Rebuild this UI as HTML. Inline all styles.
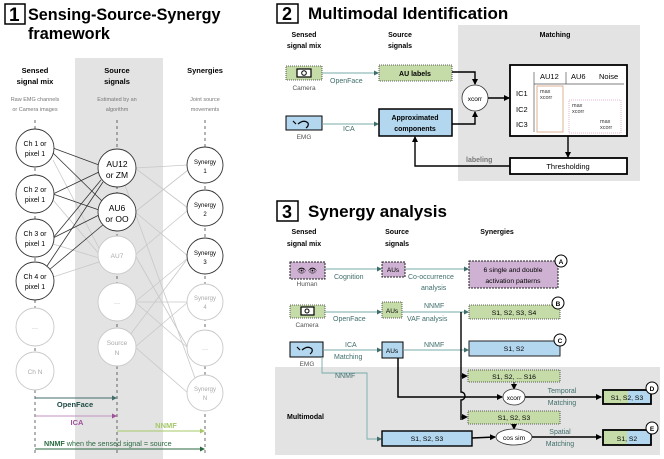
<!DOCTYPE html>
<html><head><meta charset="utf-8"><style>
html,body{margin:0;padding:0;background:#fff}
svg{display:block;font-family:"Liberation Sans",Arial,sans-serif}
.b{font-weight:bold}
</style></head><body>
<svg width="664" height="459" viewBox="0 0 664 459" xmlns="http://www.w3.org/2000/svg">
<defs>
<marker id="ah" markerWidth="6" markerHeight="6" refX="5" refY="3" orient="auto" markerUnits="userSpaceOnUse"><path d="M0,0 L6,3 L0,6z" fill="#000"/></marker>
<marker id="at" markerWidth="5" markerHeight="5" refX="4" refY="2.5" orient="auto" markerUnits="userSpaceOnUse"><path d="M0,0 L5,2.5 L0,5z" fill="#3f6e6a"/></marker>
<marker id="ap" markerWidth="5" markerHeight="5" refX="4" refY="2.5" orient="auto" markerUnits="userSpaceOnUse"><path d="M0,0 L5,2.5 L0,5z" fill="#a0509a"/></marker>
<marker id="ag" markerWidth="5" markerHeight="5" refX="4" refY="2.5" orient="auto" markerUnits="userSpaceOnUse"><path d="M0,0 L5,2.5 L0,5z" fill="#a6c86a"/></marker>
<marker id="adg" markerWidth="5" markerHeight="5" refX="4" refY="2.5" orient="auto" markerUnits="userSpaceOnUse"><path d="M0,0 L5,2.5 L0,5z" fill="#2a6a40"/></marker>
</defs>

<!-- PANEL 1 -->
<rect x="5" y="4" width="20" height="20" fill="none" stroke="#000" stroke-width="1.5"/>
<text x="9" y="21" font-size="19" class="b">1</text>
<text x="28" y="20" font-size="16.2" class="b">Sensing-Source-Synergy</text>
<text x="28" y="39" font-size="16.2" class="b">framework</text>
<rect x="75" y="58" width="88" height="401" fill="#e3e3e3"/>
<g font-size="7.5" class="b" text-anchor="middle">
<text x="35" y="73">Sensed</text><text x="35" y="84">signal mix</text>
<text x="117" y="73">Source</text><text x="117" y="84">signals</text>
<text x="205" y="73">Synergies</text>
</g>
<g font-size="5.5" fill="#777" text-anchor="middle">
<text x="35" y="101">Raw EMG channels</text><text x="35" y="111">or Camera images</text>
<text x="117" y="101">Estimated by an</text><text x="117" y="111">algorithm</text>
<text x="205" y="101">Joint source</text><text x="205" y="111">movements</text>
</g>
<g stroke="#444" stroke-width="0.8" stroke-dasharray="3,3">
<line x1="35" y1="120" x2="35" y2="455"/><line x1="117" y1="120" x2="117" y2="455"/><line x1="205" y1="120" x2="205" y2="455"/>
</g>
<g stroke="#c8c8c8" stroke-width="0.8">
<line x1="135" y1="168" x2="188" y2="165"/><line x1="135" y1="168" x2="188" y2="208"/>
<line x1="135" y1="212" x2="188" y2="170"/><line x1="135" y1="212" x2="188" y2="256"/>
<line x1="135" y1="255" x2="188" y2="210"/><line x1="135" y1="255" x2="188" y2="348"/>
<line x1="135" y1="302" x2="188" y2="302"/><line x1="135" y1="302" x2="188" y2="258"/><line x1="135" y1="302" x2="188" y2="348"/>
<line x1="135" y1="347" x2="188" y2="302"/><line x1="135" y1="347" x2="188" y2="393"/><line x1="130" y1="335" x2="188" y2="258"/>
<line x1="125" y1="185" x2="195" y2="378"/>
<line x1="53" y1="160" x2="100" y2="250"/><line x1="53" y1="200" x2="100" y2="255"/><line x1="53" y1="244" x2="99" y2="258"/><line x1="53" y1="277" x2="99" y2="262"/>
</g>
<g stroke="#333" stroke-width="0.8">
<line x1="53" y1="148" x2="99" y2="165"/><line x1="53" y1="153" x2="102" y2="201"/>
<line x1="53" y1="194" x2="99" y2="172"/><line x1="53" y1="194" x2="99" y2="210"/>
<line x1="53" y1="238" x2="101" y2="180"/><line x1="53" y1="238" x2="99" y2="215"/>
<line x1="47" y1="266" x2="103" y2="182"/><line x1="49" y1="270" x2="104" y2="224"/>
</g>
<g fill="#fff" stroke="#333" stroke-width="0.9">
<circle cx="35" cy="148" r="19"/><circle cx="35" cy="194" r="19"/><circle cx="35" cy="238" r="19"/><circle cx="35" cy="281" r="19"/>
<circle cx="117" cy="168" r="19"/><circle cx="117" cy="212" r="19"/>
<circle cx="205" cy="165" r="18"/><circle cx="205" cy="208" r="18"/><circle cx="205" cy="256" r="18"/>
</g>
<g fill="#fff" stroke="#c8c8c8" stroke-width="0.9">
<circle cx="35" cy="327" r="19"/><circle cx="35" cy="371" r="19"/>
<circle cx="117" cy="255" r="19"/><circle cx="117" cy="302" r="19"/><circle cx="117" cy="347" r="19"/>
<circle cx="205" cy="302" r="18"/><circle cx="205" cy="348" r="18"/><circle cx="205" cy="393" r="18"/>
</g>
<g font-size="7" text-anchor="middle">
<text x="35" y="146">Ch 1 or</text><text x="35" y="156">pixel 1</text>
<text x="35" y="192">Ch 2 or</text><text x="35" y="202">pixel 1</text>
<text x="35" y="236">Ch 3 or</text><text x="35" y="246">pixel 1</text>
<text x="35" y="279">Ch 4 or</text><text x="35" y="289">pixel 1</text>
<text x="117" y="167" font-size="8.5">AU12</text><text x="117" y="178" font-size="8.5">or ZM</text>
<text x="117" y="211" font-size="8.5">AU6</text><text x="117" y="222" font-size="8.5">or OO</text>
<text x="205" y="164" font-size="6">Synergy</text><text x="205" y="173" font-size="6">1</text>
<text x="205" y="207" font-size="6">Synergy</text><text x="205" y="216" font-size="6">2</text>
<text x="205" y="255" font-size="6">Synergy</text><text x="205" y="264" font-size="6">3</text>
</g>
<g font-size="6.5" text-anchor="middle" fill="#aaa">
<text x="35" y="329">…</text><text x="35" y="374">Ch N</text>
<text x="117" y="258">AU7</text><text x="117" y="304">…</text>
<text x="117" y="345">Source</text><text x="117" y="355">N</text>
<text x="205" y="300" font-size="6">Synergy</text><text x="205" y="309" font-size="6">4</text>
<text x="205" y="350">…</text>
<text x="205" y="391" font-size="6">Synergy</text><text x="205" y="400" font-size="6">N</text>
</g>
<line x1="35" y1="398" x2="116" y2="398" stroke="#3f6e6a" stroke-width="0.9" marker-end="url(#at)"/>
<text x="75" y="407" font-size="7.5" class="b" fill="#1e4a44" text-anchor="middle">OpenFace</text>
<line x1="35" y1="416" x2="116" y2="416" stroke="#c090c0" stroke-width="0.9" marker-end="url(#ap)"/>
<text x="77" y="425" font-size="7.5" class="b" fill="#a0509a" text-anchor="middle">ICA</text>
<line x1="117" y1="431" x2="204" y2="431" stroke="#a6c86a" stroke-width="0.9" marker-end="url(#ag)"/>
<text x="166" y="428" font-size="7.5" class="b" fill="#a6c86a" text-anchor="middle">NNMF</text>
<line x1="35" y1="449" x2="204" y2="449" stroke="#2a6a40" stroke-width="0.9" marker-end="url(#adg)"/>
<text x="44" y="446" font-size="7.2" fill="#2a6a40"><tspan class="b">NNMF</tspan> when the sensed signal = source</text>

<!-- PANEL 2 -->
<rect x="277" y="4" width="21" height="19" fill="none" stroke="#000" stroke-width="1.5"/>
<text x="282" y="20" font-size="18" class="b">2</text>
<text x="308" y="19" font-size="17" class="b">Multimodal Identification</text>
<rect x="458" y="25" width="182" height="156" fill="#e3e3e3"/>
<g font-size="7" class="b" text-anchor="middle">
<text x="304" y="37">Sensed</text><text x="304" y="48">signal mix</text>
<text x="400" y="37">Source</text><text x="400" y="48">signals</text>
<text x="555" y="37">Matching</text>
</g>
<rect x="286" y="66" width="36" height="14" fill="#c5dba8" stroke="#333" stroke-width="0.8" stroke-dasharray="1,1"/>
<rect x="297" y="69" width="14" height="8" fill="#fff" stroke="#000" stroke-width="1.2"/><circle cx="304" cy="73" r="2.3" fill="none" stroke="#000"/>
<text x="304" y="90" font-size="6.5" fill="#555" text-anchor="middle">Camera</text>
<line x1="322" y1="73" x2="378" y2="73" stroke="#7aa" stroke-width="0.9" marker-end="url(#at)"/>
<text x="330" y="83" font-size="7" fill="#3f6e6a">OpenFace</text>
<rect x="379" y="65" width="73" height="16" fill="#c5dba8" stroke="#333" stroke-width="0.8" stroke-dasharray="1,1"/>
<text x="415" y="76" font-size="7" class="b" text-anchor="middle">AU labels</text>
<rect x="286" y="116" width="36" height="14" fill="#b3d7ef" stroke="#000" stroke-width="1"/>
<path d="M293,121 l3,3 M298,124 q6,-5 10,-1 q1,3 -2,5" stroke="#000" stroke-width="1.2" fill="none"/>
<text x="304" y="139" font-size="6.5" fill="#555" text-anchor="middle">EMG</text>
<line x1="322" y1="124" x2="378" y2="124" stroke="#7aa" stroke-width="0.9" marker-end="url(#at)"/>
<text x="343" y="131" font-size="7" fill="#3f6e6a">ICA</text>
<rect x="379" y="109" width="73" height="27" fill="#b3d7ef" stroke="#000" stroke-width="1.5"/>
<text x="415" y="120" font-size="7" class="b" text-anchor="middle">Approximated</text>
<text x="415" y="131" font-size="7" class="b" text-anchor="middle">components</text>
<circle cx="475" cy="98" r="13" fill="#fff" stroke="#333" stroke-width="0.8"/>
<text x="475" y="101" font-size="6.5" text-anchor="middle">xcorr</text>
<polyline points="452,72 475,72 475,84" fill="none" stroke="#000" stroke-width="1.4" marker-end="url(#ah)"/>
<polyline points="452,124 475,124 475,112" fill="none" stroke="#000" stroke-width="1.4" marker-end="url(#ah)"/>
<line x1="488" y1="98" x2="509" y2="98" stroke="#000" stroke-width="1.4" marker-end="url(#ah)"/>
<rect x="510" y="65" width="117" height="71" fill="#fff" stroke="#000" stroke-width="1.8"/>
<g font-size="7.5"><text x="540" y="79">AU12</text><text x="571" y="79">AU6</text><text x="599" y="79">Noise</text>
<text x="516" y="96">IC1</text><text x="516" y="112">IC2</text><text x="516" y="127">IC3</text></g>
<line x1="534" y1="72" x2="534" y2="132" stroke="#555" stroke-width="0.7"/>
<line x1="566" y1="72" x2="566" y2="84" stroke="#555" stroke-width="0.7"/>
<line x1="534" y1="84" x2="624" y2="84" stroke="#555" stroke-width="0.7"/>
<rect x="537" y="86" width="26" height="46" fill="none" stroke="#d8a07a" stroke-width="0.8"/>
<rect x="569" y="100" width="52" height="33" fill="none" stroke="#e0a0c0" stroke-width="0.8" stroke-dasharray="1,1"/>
<g font-size="5.5" fill="#333"><text x="540" y="93">max</text><text x="540" y="99">xcorr</text>
<text x="572" y="107">max</text><text x="572" y="113">xcorr</text>
<text x="600" y="123">max</text><text x="600" y="129">xcorr</text></g>
<line x1="568" y1="136" x2="568" y2="157" stroke="#000" stroke-width="1.4" marker-end="url(#ah)"/>
<rect x="510" y="158" width="117" height="16" fill="#fff" stroke="#000" stroke-width="1.8"/>
<text x="568" y="169" font-size="7.5" text-anchor="middle">Thresholding</text>
<polyline points="510,166 415,166 415,137" fill="none" stroke="#000" stroke-width="1.4" marker-end="url(#ah)"/>
<text x="466" y="162" font-size="7" class="b" fill="#777">labeling</text>

<!-- PANEL 3 -->
<rect x="277" y="201" width="21" height="20" fill="none" stroke="#000" stroke-width="1.5"/>
<text x="282" y="218" font-size="18" class="b">3</text>
<text x="308" y="217" font-size="17" class="b">Synergy analysis</text>
<rect x="275" y="367" width="385" height="88" fill="#e3e3e3"/>
<text x="287" y="419" font-size="7" class="b">Multimodal</text>
<g font-size="7" class="b" text-anchor="middle">
<text x="304" y="234">Sensed</text><text x="304" y="246">signal mix</text>
<text x="397" y="234">Source</text><text x="397" y="246">signals</text>
<text x="497" y="234">Synergies</text>
</g>
<rect x="290" y="262" width="35" height="17" fill="#cfb2d3" stroke="#222" stroke-width="1" stroke-dasharray="2,1"/>
<text x="307" y="273" font-size="7" text-anchor="middle">👁 👁</text>
<text x="307" y="286" font-size="6.5" fill="#555" text-anchor="middle">Human</text>
<line x1="325" y1="269" x2="381" y2="269" stroke="#7aa" stroke-width="0.9" marker-end="url(#at)"/>
<text x="334" y="279" font-size="7" fill="#3f6e6a">Cognition</text>
<rect x="382" y="262" width="23" height="15" fill="#cfb2d3" stroke="#222" stroke-width="1" stroke-dasharray="2,1"/>
<text x="393" y="272" font-size="6.5" text-anchor="middle">AUs</text>
<line x1="405" y1="269" x2="468" y2="269" stroke="#7aa" stroke-width="0.9" marker-end="url(#at)"/>
<text x="408" y="279" font-size="7" fill="#3f6e6a">Co-occurrence</text>
<text x="421" y="290" font-size="7" fill="#3f6e6a">analysis</text>
<rect x="469" y="261" width="89" height="27" fill="#cfb2d3" stroke="#222" stroke-width="1" stroke-dasharray="2,1"/>
<text x="513" y="272" font-size="6.8" text-anchor="middle">6 single and double</text>
<text x="513" y="283" font-size="6.8" text-anchor="middle">activation patterns</text>
<rect x="290" y="305" width="35" height="13" fill="#c5dba8" stroke="#333" stroke-width="0.8" stroke-dasharray="1,1"/>
<rect x="301" y="307" width="13" height="8" fill="#fff" stroke="#000" stroke-width="1.2"/><circle cx="307" cy="311" r="2" fill="none" stroke="#000"/>
<text x="307" y="327" font-size="6.5" fill="#555" text-anchor="middle">Camera</text>
<line x1="325" y1="312" x2="381" y2="312" stroke="#7aa" stroke-width="0.9" marker-end="url(#at)"/>
<text x="333" y="321" font-size="7" fill="#3f6e6a">OpenFace</text>
<rect x="382" y="302" width="20" height="16" fill="#c5dba8" stroke="#333" stroke-width="0.8" stroke-dasharray="1,1"/>
<text x="392" y="313" font-size="6.5" text-anchor="middle">AUs</text>
<line x1="402" y1="312" x2="468" y2="312" stroke="#7aa" stroke-width="0.9" marker-end="url(#at)"/>
<text x="424" y="308" font-size="7" fill="#3f6e6a">NNMF</text>
<text x="407" y="321" font-size="7" fill="#3f6e6a">VAF analysis</text>
<rect x="469" y="305" width="91" height="14" fill="#c5dba8" stroke="#333" stroke-width="0.8" stroke-dasharray="1,1"/>
<text x="514" y="315" font-size="6.8" text-anchor="middle">S1, S2, S3, S4</text>
<rect x="290" y="342" width="33" height="15" fill="#b3d7ef" stroke="#000" stroke-width="1"/>
<path d="M297,347 l3,3 M302,350 q6,-5 10,-1 q1,3 -2,5" stroke="#000" stroke-width="1.2" fill="none"/>
<text x="307" y="366" font-size="6.5" fill="#555" text-anchor="middle">EMG</text>
<line x1="323" y1="350" x2="381" y2="350" stroke="#7aa" stroke-width="0.9" marker-end="url(#at)"/>
<text x="345" y="347" font-size="7" fill="#3f6e6a">ICA</text>
<text x="334" y="359" font-size="7" fill="#3f6e6a">Matching</text>
<rect x="382" y="342" width="21" height="16" fill="#b3d7ef" stroke="#000" stroke-width="1"/>
<text x="392" y="353" font-size="6.5" text-anchor="middle">AUs</text>
<line x1="403" y1="350" x2="468" y2="350" stroke="#7aa" stroke-width="0.9" marker-end="url(#at)"/>
<text x="424" y="347" font-size="7" fill="#3f6e6a">NNMF</text>
<rect x="469" y="341" width="91" height="15" fill="#b3d7ef" stroke="#222" stroke-width="1"/>
<text x="514" y="351" font-size="6.8" text-anchor="middle">S1, S2</text>
<g font-size="6.5" class="b" text-anchor="middle">
<circle cx="561" cy="261" r="6" fill="#fff" stroke="#000"/><text x="561" y="264">A</text>
<circle cx="558" cy="303" r="6" fill="#fff" stroke="#000"/><text x="558" y="306">B</text>
<circle cx="560" cy="340" r="6" fill="#fff" stroke="#000"/><text x="560" y="343">C</text>
</g>
<path d="M461,312 L461,392 a4,4 0 0 1 0,8 L461,420" fill="none" stroke="#000" stroke-width="1.4"/>
<line x1="461" y1="376" x2="467" y2="376" stroke="#000" stroke-width="1" marker-end="url(#ah)"/>
<line x1="461" y1="417" x2="467" y2="417" stroke="#000" stroke-width="1" marker-end="url(#ah)"/>
<rect x="468" y="370" width="92" height="12" fill="#c5dba8" stroke="#333" stroke-width="0.8" stroke-dasharray="1,1"/>
<text x="514" y="379" font-size="6.8" text-anchor="middle">S1, S2, ... S16</text>
<line x1="514" y1="382" x2="514" y2="389" stroke="#000" stroke-width="1" marker-end="url(#ah)"/>
<ellipse cx="514" cy="397" rx="11" ry="8" fill="#fff" stroke="#333" stroke-width="0.8"/>
<text x="514" y="400" font-size="6.5" text-anchor="middle">xcorr</text>
<polyline points="398,358 398,397 502,397" fill="none" stroke="#000" stroke-width="1.5" marker-end="url(#ah)"/>
<line x1="525" y1="397" x2="601" y2="397" stroke="#000" stroke-width="1.5" marker-end="url(#ah)"/>
<text x="562" y="393" font-size="7" fill="#3f6e6a" text-anchor="middle">Temporal</text>
<text x="562" y="405" font-size="7" fill="#3f6e6a" text-anchor="middle">Matching</text>
<rect x="603" y="390" width="25" height="14" fill="#c5dba8"/><rect x="628" y="390" width="23" height="14" fill="#b3d7ef"/>
<rect x="603" y="390" width="48" height="14" fill="none" stroke="#000" stroke-width="1.8"/>
<text x="627" y="400" font-size="6.8" text-anchor="middle">S1, S2, S3</text>
<rect x="468" y="411" width="92" height="13" fill="#c5dba8" stroke="#333" stroke-width="0.8" stroke-dasharray="1,1"/>
<text x="514" y="420" font-size="6.8" text-anchor="middle">S1, S2, S3</text>
<line x1="514" y1="424" x2="514" y2="429" stroke="#000" stroke-width="1" marker-end="url(#ah)"/>
<ellipse cx="514" cy="437" rx="18" ry="8" fill="#fff" stroke="#333" stroke-width="0.8"/>
<text x="514" y="440" font-size="6.5" text-anchor="middle">cos sim</text>
<polyline points="322,357 322,373 367,373 367,439 381,439" fill="none" stroke="#7aa" stroke-width="0.9" marker-end="url(#at)"/>
<text x="335" y="378" font-size="7" fill="#3f6e6a">NNMF</text>
<rect x="382" y="431" width="90" height="15" fill="#b3d7ef" stroke="#000" stroke-width="1.4"/>
<text x="427" y="441" font-size="6.8" text-anchor="middle">S1, S2, S3</text>
<line x1="472" y1="438" x2="495" y2="437" stroke="#000" stroke-width="1.5" marker-end="url(#ah)"/>
<line x1="532" y1="437" x2="601" y2="437" stroke="#000" stroke-width="1.5" marker-end="url(#ah)"/>
<text x="560" y="434" font-size="7" fill="#3f6e6a" text-anchor="middle">Spatial</text>
<text x="560" y="446" font-size="7" fill="#3f6e6a" text-anchor="middle">Matching</text>
<rect x="603" y="430" width="24" height="15" fill="#c5dba8"/><rect x="627" y="430" width="24" height="15" fill="#b3d7ef"/>
<rect x="603" y="430" width="48" height="15" fill="none" stroke="#000" stroke-width="1.8"/>
<text x="627" y="441" font-size="6.8" text-anchor="middle">S1, S2</text>
<g font-size="6.5" class="b" text-anchor="middle">
<circle cx="652" cy="388" r="6" fill="#fff" stroke="#000"/><text x="652" y="391">D</text>
<circle cx="652" cy="428" r="6" fill="#fff" stroke="#000"/><text x="652" y="431">E</text>
</g>
</svg>
</body></html>
